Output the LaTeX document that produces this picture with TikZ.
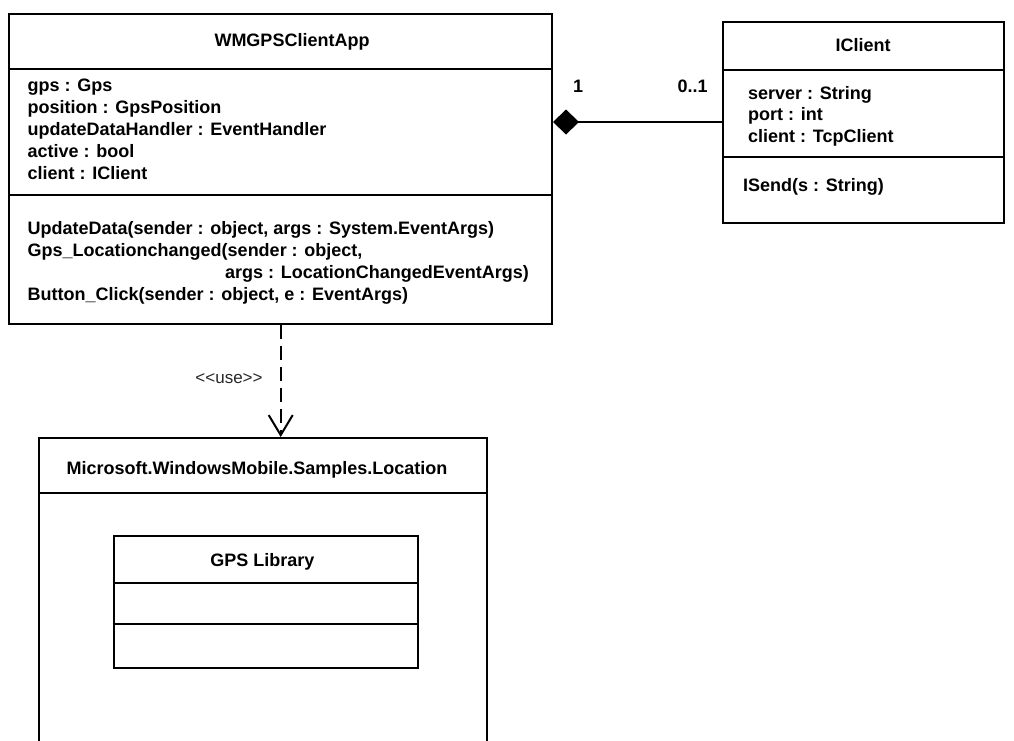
\documentclass[tikz,border=0pt]{standalone}
\usepackage{fontspec}
\setmainfont{Liberation Sans}
\usetikzlibrary{arrows.meta}
\begin{document}
\begin{tikzpicture}[x=1pt,y=-1pt,
  box/.style={draw, line width=2pt, inner sep=0pt, anchor=north west},
  sep/.style={line width=2pt},
  txt/.style={inner sep=0pt, anchor=base west, font=\fontsize{18}{22}\selectfont\bfseries},
  ttl/.style={inner sep=0pt, anchor=base, font=\fontsize{18}{22}\selectfont\bfseries},
  lbl/.style={inner sep=0pt, anchor=base, font=\fontsize{17}{22}\selectfont, text=black!85},
  comp/.style={line width=2pt, {Diamond[length=26pt,width=25pt]}-},
  dep/.style={line width=2pt, dash pattern=on 14pt off 7pt, -{Straight Barb[length=20pt,width=24pt,line width=2pt]}}]
\useasboundingbox (0,0) rectangle (1014,740);
\clip (0,0) rectangle (1014,740);

% WMGPSClientApp
\node[box, minimum width=543pt, minimum height=310pt] (app) at (8,13) {};
\draw[sep] (app.west |- 0,69) -- (app.east |- 0,69);
\draw[sep] (app.west |- 0,195) -- (app.east |- 0,195);
\node[ttl] (apptitle) at (292,46) {WMGPSClientApp};
\node[txt] (a1) at (27.5,91) {gps : Gps};
\node[txt] (a2) at (27.5,113) {position : GpsPosition};
\node[txt] (a3) at (27.5,135) {updateDataHandler : EventHandler};
\node[txt] (a4) at (27.5,157) {active : bool};
\node[txt] (a5) at (27.5,179) {client : IClient};
\node[txt] (m1) at (27.5,234) {UpdateData(sender : object, args : System.EventArgs)};
\node[txt] (m2) at (27.5,256) {Gps\_Locationchanged(sender : object,};
\node[txt] (m3) at (225,278) {args : LocationChangedEventArgs)};
\node[txt] (m4) at (27.5,300) {Button\_Click(sender : object, e : EventArgs)};

% IClient
\node[box, minimum width=281pt, minimum height=201pt] (icl) at (722,21) {};
\draw[sep] (icl.west |- 0,70) -- (icl.east |- 0,70);
\draw[sep] (icl.west |- 0,157) -- (icl.east |- 0,157);
\node[ttl] (icltitle) at (863,51) {IClient};
\node[txt] (c1) at (748,99) {server : String};
\node[txt] (c2) at (748,120.5) {port : int};
\node[txt] (c3) at (748,142) {client : TcpClient};
\node[txt] (c4) at (743,191) {ISend(s : String)};

% composition
\draw[comp] (app.east |- 0,122) -- (icl.west |- 0,122);
\node[txt] (m1lbl) at (573,92) {1};
\node[txt] (m2lbl) at (677.5,92) {0..1};

% package
\node[box, minimum width=448pt, minimum height=320pt] (pkg) at (38,437) {};
\draw[sep] (pkg.west |- 0,493) -- (pkg.east |- 0,493);
\node[ttl] (pkgtitle) at (257,474) {Microsoft.WindowsMobile.Samples.Location};

% GPS Library
\node[box, minimum width=304pt, minimum height=132pt] (lib) at (112.5,535) {};
\draw[sep] (lib.west |- 0,583) -- (lib.east |- 0,583);
\draw[sep] (lib.west |- 0,624) -- (lib.east |- 0,624);
\node[ttl] (libtitle) at (262.5,566) {GPS Library};

% dependency
\draw[dep] (app.south -| 280.7,0) -- (pkg.north -| 280.7,0);
\node[lbl] (use) at (229,383) {<{}<use>{}>};
\end{tikzpicture}
\end{document}
